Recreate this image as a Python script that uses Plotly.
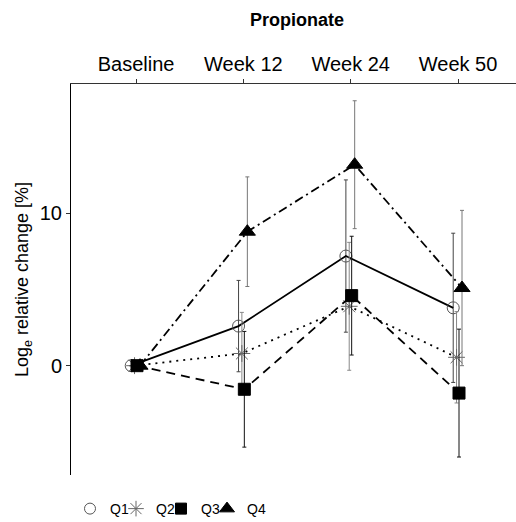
import plotly.graph_objects as go

categories = ["Baseline", "Week 12", "Week 24", "Week 50"]
series_names = ["Q1", "Q2", "Q3", "Q4"]

q1_values = [0, 2.6, 7.2, 3.8]
q1_errors = [None, 3.0, 5.0, 4.9]
q2_values = [0, 0.8, 3.9, 0.55]
q2_errors = [None, 2.7, 4.2, 3.0]
q3_values = [0, -1.55, 4.6, -1.8]
q3_errors = [None, 3.8, 3.9, 4.2]
q4_values = [0, 8.8, 13.2, 5.1]
q4_errors = [None, 3.6, 4.2, 5.1]

y_tick_values = [0, 10]

values = [q1_values, q2_values, q3_values, q4_values]
errors = [q1_errors, q2_errors, q3_errors, q4_errors]

# styling (not data)
dodge = [-0.045, -0.014, 0.009, 0.037]
symbols = ["circle-open", "asterisk-open", "square", "triangle-up"]
msizes = [12, 14, 12, 14]
mcolors = ["#555555", "#666666", "#000000", "#000000"]
dashes = ["solid", "2px,5px", "9px,6px", "9px,4px,2px,4px"]
ecolors = ["#444444", "#888888", "#111111", "#777777"]
legend_ids = ["legend", "legend2", "legend3", "legend4"]
legend_px = [70, 116, 161, 207]

PLOT_L, PLOT_R = 71, 516

fig = go.Figure()
base_x = list(range(1, len(categories) + 1))
for i, name in enumerate(series_names):
    xs = [b + dodge[i] for b in base_x]
    fig.add_trace(go.Scatter(
        x=xs, y=values[i], mode="lines+markers", name=name, showlegend=False,
        line=dict(color="black", width=1.8, dash=dashes[i]),
        marker=dict(symbol=symbols[i], size=msizes[i], color=mcolors[i],
                    line=dict(color=mcolors[i], width=1)),
        error_y=dict(type="data", array=[e if e is not None else float("nan") for e in errors[i]],
                     symmetric=True, color=ecolors[i], thickness=1, width=2),
    ))
# legend entries
for i, name in enumerate(series_names):
    fig.add_trace(go.Scatter(
        x=[None], y=[None], mode="markers", name=name, showlegend=True,
        legend=legend_ids[i],
        marker=dict(symbol=symbols[i], size=msizes[i] - 1, color=mcolors[i],
                    line=dict(color=mcolors[i], width=1)),
    ))

legend_common = dict(orientation="h", yanchor="middle", y=-0.087, xanchor="left",
                     font=dict(size=14), itemwidth=30, bgcolor="rgba(0,0,0,0)")
layout_legends = {}
for i, lid in enumerate(legend_ids):
    layout_legends[lid] = dict(legend_common, x=(legend_px[i] - PLOT_L) / (PLOT_R - PLOT_L))

fig.update_layout(
    width=516, height=522,
    margin=dict(l=PLOT_L, r=516 - PLOT_R, t=84, b=47, autoexpand=False),
    paper_bgcolor="white", plot_bgcolor="white",
    font=dict(family="Liberation Sans, Arial, sans-serif", color="black"),
    title=dict(text="<b>Propionate</b>", x=297 / 516, xref="container", xanchor="center",
               y=1 - 20 / 522, yanchor="middle", font=dict(size=18)),
    showlegend=True,
    xaxis=dict(range=[0.394, 4.54], tickmode="array", tickvals=base_x, ticktext=categories,
               side="top", showline=True, linecolor="#333333", linewidth=1,
               ticks="outside", ticklen=4, tickcolor="#333333", showgrid=False,
               zeroline=False, tickfont=dict(size=20), automargin=False),
    yaxis=dict(range=[-7.18, 18.5], tickmode="array", tickvals=y_tick_values,
               showline=True, linecolor="black", linewidth=1,
               ticks="outside", ticklen=4, tickcolor="#333333", showgrid=False,
               zeroline=False, tickfont=dict(size=20), automargin=False,
               title=dict(text="Log<sub>e</sub> relative change [%]", font=dict(size=18), standoff=6)),
    **layout_legends,
)

fig.write_html("out.html", config={"displayModeBar": False},
               post_script="document.body.style.margin='0';")
